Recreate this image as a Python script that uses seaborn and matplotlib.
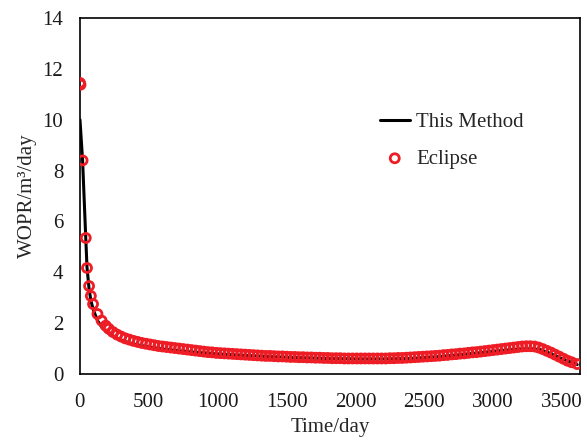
import matplotlib
matplotlib.use("Agg")
import matplotlib.pyplot as plt
import seaborn as sns

# This Method (simulated WOPR curve)
method_time = [1, 20, 43, 52, 67, 80, 96, 128, 158, 188, 220, 260, 300, 350, 400, 500,
               600, 700, 800, 900, 1000, 1200, 1400, 1600, 1800, 2000, 2200, 2400, 2600,
               2800, 3000, 3100, 3200, 3280, 3340, 3400, 3500, 3610]
method_wopr = [10.0, 8.4, 5.35, 4.2, 3.35, 2.9, 2.55, 2.1, 1.85, 1.68, 1.55, 1.43, 1.33, 1.24,
               1.17, 1.06, 0.98, 0.92, 0.87, 0.83, 0.79, 0.73, 0.68, 0.64, 0.61, 0.59, 0.59,
               0.61, 0.68, 0.78, 0.89, 0.94, 0.98, 0.99, 0.96, 0.84, 0.60, 0.37]

# Eclipse reference results
eclipse_time = [1, 5, 20, 43, 52, 67, 80, 96, 128, 158, 188,
                210, 240, 270, 300, 330, 360, 390, 420, 450, 480, 510, 540, 570, 600,
                630, 660, 690, 720, 750, 780, 810, 840, 870, 900, 930, 960, 990, 1020,
                1050, 1080, 1110, 1140, 1170, 1200, 1230, 1260, 1290, 1320, 1350, 1380,
                1410, 1440, 1470, 1500, 1530, 1560, 1590, 1620, 1650, 1680, 1710, 1740,
                1770, 1800, 1830, 1860, 1890, 1920, 1950, 1980, 2010, 2040, 2070, 2100,
                2130, 2160, 2190, 2220, 2250, 2280, 2310, 2340, 2370, 2400, 2430, 2460,
                2490, 2520, 2550, 2580, 2610, 2640, 2670, 2700, 2730, 2760, 2790, 2820,
                2850, 2880, 2910, 2940, 2970, 3000, 3030, 3060, 3090, 3120, 3150, 3180,
                3210, 3240, 3270, 3300, 3330, 3360, 3390, 3420, 3450, 3480, 3510, 3540,
                3570, 3610]
eclipse_wopr = [11.45, 11.38, 8.4, 5.35, 4.17, 3.46, 3.07, 2.75, 2.36, 2.1, 1.9,
                1.78, 1.65, 1.55, 1.47, 1.40, 1.35, 1.30, 1.26, 1.22, 1.19, 1.16, 1.13, 1.10, 1.08,
                1.06, 1.04, 1.02, 1.00, 0.98, 0.96, 0.94, 0.92, 0.90, 0.88, 0.86, 0.85, 0.83, 0.82,
                0.81, 0.80, 0.79, 0.78, 0.77, 0.76, 0.75, 0.74, 0.73, 0.72, 0.71, 0.71,
                0.70, 0.69, 0.69, 0.68, 0.67, 0.67, 0.66, 0.66, 0.65, 0.65, 0.64, 0.64,
                0.63, 0.63, 0.62, 0.62, 0.62, 0.61, 0.61, 0.61, 0.61, 0.61, 0.61, 0.61,
                0.61, 0.61, 0.61, 0.61, 0.62, 0.62, 0.63, 0.63, 0.64, 0.65, 0.66, 0.67,
                0.68, 0.69, 0.70, 0.71, 0.72, 0.74, 0.75, 0.77, 0.78, 0.80, 0.81, 0.83,
                0.85, 0.86, 0.88, 0.90, 0.92, 0.94, 0.96, 0.98, 1.00, 1.02, 1.04, 1.06,
                1.08, 1.09, 1.09, 1.08, 1.04, 0.98, 0.91, 0.84, 0.76, 0.68, 0.60, 0.52,
                0.46, 0.39]

x_ticks = [0, 500, 1000, 1500, 2000, 2500, 3000, 3500]
y_ticks = [0, 2, 4, 6, 8, 10, 12, 14]

sns.set_style("white")
plt.rcParams['font.family'] = ['Liberation Serif', 'DejaVu Serif']

fig = plt.figure(figsize=(5.87, 4.41), dpi=100)
ax = fig.add_axes([0.136, 0.152, 0.852, 0.807])

sns.lineplot(x=method_time, y=method_wopr, color='black', linewidth=2.2,
             label='This Method', ax=ax, sort=False)
sns.scatterplot(x=eclipse_time, y=eclipse_wopr, marker='o', s=42,
                facecolor='none', edgecolor='#ee1c24', linewidth=2,
                label='Eclipse', ax=ax, zorder=3)

ax.set_xlim(0, 3630)
ax.set_ylim(0, 14)
ax.set_xticks(x_ticks)
ax.set_yticks(y_ticks)
ax.tick_params(axis='y', length=0, labelsize=15, colors='#1a1a1a', pad=12)
ax.tick_params(axis='x', length=0, labelsize=15, colors='#1a1a1a', pad=14)
for s in ax.spines.values():
    s.set_visible(True)
    s.set_color('black')
    s.set_linewidth(1.2)

ax.set_xlabel("Time/day", fontsize=15, labelpad=4)
ax.set_ylabel("WOPR/m³/day", fontsize=15, labelpad=4)

leg = ax.legend(loc='center left', bbox_to_anchor=(0.562, 0.656), frameon=False,
                fontsize=15, handlelength=1.45, handletextpad=0.3, labelspacing=0.83)

fig.savefig("out.png", dpi=100)
